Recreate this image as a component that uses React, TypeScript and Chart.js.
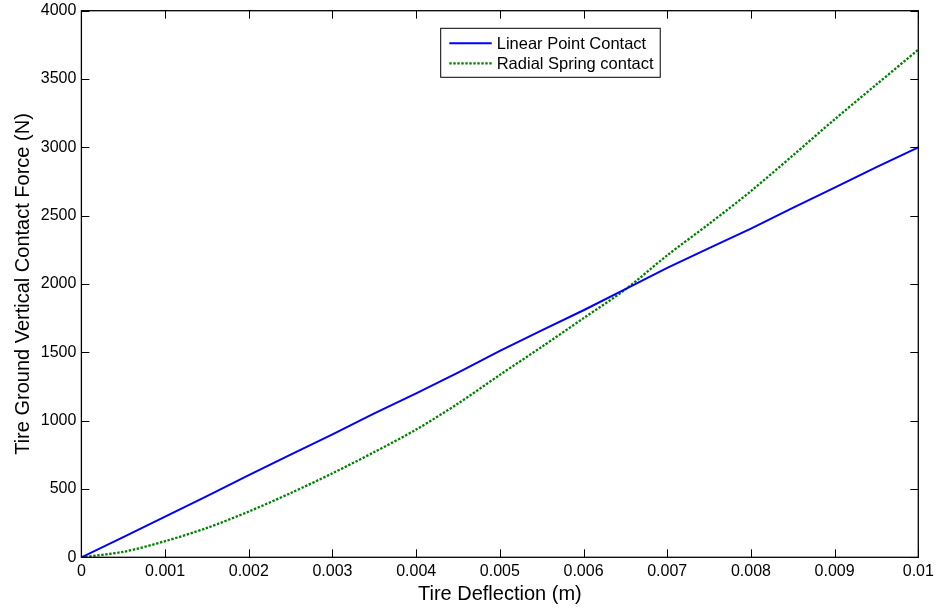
import React, { useEffect, useRef } from "react";
import { Chart, registerables } from "chart.js";

Chart.register(...registerables);

const deflection = [
  0, 0.0005, 0.001, 0.0015, 0.002, 0.0025, 0.003, 0.0035, 0.004, 0.0045, 0.005,
  0.0055, 0.006, 0.0065, 0.007, 0.0075, 0.008, 0.0085, 0.009, 0.0095, 0.01,
];
const linearForce = [
  0, 148, 297, 447, 601, 752, 900, 1053, 1200, 1352, 1510, 1660, 1808, 1962,
  2118, 2262, 2405, 2557, 2705, 2855, 3000,
];
const radialForce = [
  0, 40, 118, 215, 335, 470, 615, 770, 935, 1125, 1335, 1540, 1750, 1960, 2210,
  2440, 2680, 2940, 3205, 3460, 3715,
];
const xTickLabels = [
  "0", "0.001", "0.002", "0.003", "0.004", "0.005", "0.006", "0.007", "0.008", "0.009", "0.01",
];
const yTickLabels = ["0", "500", "1000", "1500", "2000", "2500", "3000", "3500", "4000"];
const seriesNames = ["Linear Point Contact", "Radial Spring contact"];

const FONT = "'Liberation Sans', Arial, Helvetica, sans-serif";

const boxPlugin = {
  id: "matlabBox",
  afterDatasetsDraw(chart: any) {
    const { ctx, chartArea } = chart;
    const { left, right, top, bottom } = chartArea;
    const xs = chart.scales.x;
    const ys = chart.scales.y;
    ctx.save();
    ctx.strokeStyle = "#000";
    ctx.lineWidth = 1;
    ctx.setLineDash([]);
    ctx.beginPath();
    const tl = 8;
    xs.ticks.forEach((t: any) => {
      const px = Math.round(xs.getPixelForValue(t.value)) + 0.5;
      ctx.moveTo(px, bottom);
      ctx.lineTo(px, bottom - tl);
      ctx.moveTo(px, top);
      ctx.lineTo(px, top + tl);
    });
    ys.ticks.forEach((t: any) => {
      const py = Math.round(ys.getPixelForValue(t.value)) + 0.5;
      ctx.moveTo(left, py);
      ctx.lineTo(left + tl, py);
      ctx.moveTo(right, py);
      ctx.lineTo(right - tl, py);
    });
    ctx.stroke();
    ctx.lineWidth = 1.3;
    ctx.strokeRect(left, top, right - left, bottom - top);

    // legend
    const fontSize = 16.5;
    ctx.font = `${fontSize}px ${FONT}`;
    const ds = chart.data.datasets;
    const textW = Math.max(...ds.map((d: any) => ctx.measureText(d.label).width));
    const bx = 440.7;
    const by = 28.3;
    const sampleL = 8.6;
    const sampleW = 42.4;
    const gap = 5;
    const bw = sampleL + sampleW + gap + textW + 6.7;
    const bh = 49;
    ctx.fillStyle = "#fff";
    ctx.fillRect(bx, by, bw, bh);
    ctx.lineWidth = 1;
    ctx.strokeStyle = "#000";
    ctx.strokeRect(bx, by, bw, bh);
    ds.forEach((d: any, i: number) => {
      const cy = by + 15 + i * 20;
      ctx.beginPath();
      ctx.strokeStyle = d.borderColor;
      ctx.lineWidth = d.borderWidth;
      ctx.setLineDash(d.borderDash || []);
      ctx.moveTo(bx + sampleL, cy);
      ctx.lineTo(bx + sampleL + sampleW, cy);
      ctx.stroke();
      ctx.setLineDash([]);
      ctx.fillStyle = "#000";
      ctx.textBaseline = "middle";
      ctx.textAlign = "left";
      ctx.fillText(d.label, bx + sampleL + sampleW + gap, cy + 1);
    });
    ctx.restore();
  },
};

export default function App() {
  const ref = useRef<HTMLCanvasElement | null>(null);
  useEffect(() => {
    if (!ref.current) return;
    const chart = new Chart(ref.current, {
      type: "line",
      data: {
        datasets: [
          {
            label: seriesNames[0],
            data: deflection.map((x, i) => ({ x, y: linearForce[i] })),
            borderColor: "#0000ff",
            borderWidth: 2,
            pointRadius: 0,
            tension: 0,
            fill: false,
          },
          {
            label: seriesNames[1],
            data: deflection.map((x, i) => ({ x, y: radialForce[i] })),
            borderColor: "#008000",
            borderWidth: 2.3,
            borderDash: [2.4, 1.6],
            pointRadius: 0,
            tension: 0.3,
            fill: false,
          },
        ],
      },
      options: {
        responsive: false,
        animation: false,
        devicePixelRatio: 1,
        layout: { padding: { top: 10.7, right: 17.7, left: 0, bottom: 0 } },
        plugins: { legend: { display: false }, tooltip: { enabled: false } },
        scales: {
          x: {
            type: "linear",
            min: 0,
            max: 0.01,
            afterFit: (s: any) => {
              s.height = 54.7;
              s.paddingLeft = 0;
              s.paddingRight = 0;
            },
            afterBuildTicks: (s: any) => {
              s.ticks = xTickLabels.map((l) => ({ value: parseFloat(l) }));
            },
            ticks: {
              callback: (_v: any, i: number) => xTickLabels[i],
              color: "#000",
              font: { family: FONT, size: 16 },
              padding: 5,
              maxRotation: 0,
              autoSkip: false,
            },
            grid: { display: false, drawTicks: false },
            border: { display: false },
            title: {
              display: true,
              text: "Tire Deflection (m)",
              color: "#000",
              font: { family: FONT, size: 20 },
              padding: { top: 0, bottom: 6 },
            },
          },
          y: {
            type: "linear",
            min: 0,
            max: 4000,
            afterFit: (s: any) => {
              s.width = 81.4;
              s.paddingTop = 0;
              s.paddingBottom = 0;
            },
            afterBuildTicks: (s: any) => {
              s.ticks = yTickLabels.map((l) => ({ value: parseFloat(l) }));
            },
            ticks: {
              callback: (_v: any, i: number) => yTickLabels[i],
              color: "#000",
              font: { family: FONT, size: 16 },
              padding: 5,
              autoSkip: false,
            },
            grid: { display: false, drawTicks: false },
            border: { display: false },
            title: {
              display: true,
              text: "Tire Ground Vertical Contact Force (N)",
              color: "#000",
              font: { family: FONT, size: 20 },
              padding: { top: 11, bottom: 0 },
            },
          },
        },
      },
      plugins: [boxPlugin],
    });
    return () => chart.destroy();
  }, []);
  return (
    <div style={{ position: "fixed", left: 0, top: 0, width: 936, height: 612, background: "#fff" }}>
      <canvas ref={ref} width={936} height={612} />
    </div>
  );
}
